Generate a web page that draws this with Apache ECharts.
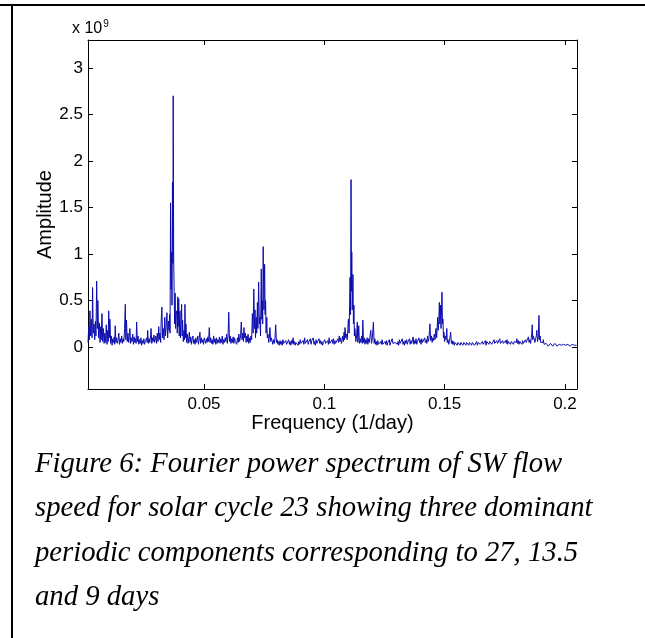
<!DOCTYPE html>
<html><head><meta charset="utf-8">
<script src="https://cdn.jsdelivr.net/npm/echarts@6/dist/echarts.min.js"></script>
<style>html,body{margin:0;padding:0;background:#fff}#c{width:645px;height:638px}</style>
</head><body><div id="c"></div>
<script>
// Amplitude values in units of 1e9, frequency in 1/day
const specLow = [[0.0018,0.05],[0.0021,0.22],[0.0024,0.08],[0.0026,0.39],[0.0029,0.12],[0.0032,0.30],[0.0035,0.10],[0.0037,0.64],[0.0040,0.15],[0.0043,0.25],[0.0046,0.08],[0.0049,0.28],[0.0051,0.12],[0.0054,0.71],[0.0057,0.20],[0.0059,0.50],[0.0062,0.10],[0.0065,0.26],[0.0068,0.05],[0.0071,0.22],[0.0073,0.08],[0.0076,0.36],[0.0079,0.06],[0.0082,0.20],[0.0085,0.04],[0.0088,0.15],[0.0091,0.05],[0.0094,0.24],[0.0097,0.03],[0.0100,0.18],[0.0102,0.06],[0.0104,0.39],[0.0107,0.10],[0.0109,0.30],[0.0112,0.04],[0.0115,0.12],[0.0118,0.02],[0.0121,0.09],[0.0124,0.05],[0.0127,0.11],[0.0129,0.03],[0.0131,0.23],[0.0134,0.05],[0.0137,0.10],[0.0140,0.04],[0.0143,0.08],[0.0146,0.15],[0.0149,0.03],[0.0152,0.09],[0.0155,0.05],[0.0158,0.12],[0.0161,0.04],[0.0164,0.09],[0.0167,0.06],[0.0170,0.20],[0.0173,0.46],[0.0175,0.08],[0.0178,0.29],[0.0181,0.06],[0.0184,0.15],[0.0187,0.05],[0.0190,0.12],[0.0192,0.20],[0.0195,0.04],[0.0198,0.10],[0.0201,0.06],[0.0204,0.14],[0.0207,0.03],[0.0210,0.11],[0.0213,0.05],[0.0216,0.09],[0.0218,0.04],[0.0220,0.27],[0.0223,0.06],[0.0226,0.12],[0.0229,0.03],[0.0232,0.08],[0.0235,0.04],[0.0238,0.10],[0.0241,0.02],[0.0244,0.07],[0.0247,0.04],[0.0250,0.09],[0.0253,0.03],[0.0256,0.06],[0.0259,0.04],[0.0262,0.10],[0.0264,0.05],[0.0266,0.18],[0.0269,0.04],[0.0272,0.09],[0.0275,0.05],[0.0278,0.12],[0.0280,0.20],[0.0283,0.04],[0.0286,0.10],[0.0289,0.06],[0.0292,0.13],[0.0295,0.05],[0.0298,0.09],[0.0300,0.12],[0.0303,0.04],[0.0306,0.15],[0.0309,0.06],[0.0312,0.22],[0.0314,0.08],[0.0317,0.15],[0.0320,0.05],[0.0322,0.28],[0.0325,0.43],[0.0328,0.10],[0.0331,0.20],[0.0334,0.08],[0.0337,0.32],[0.0340,0.12],[0.0343,0.22],[0.0346,0.37],[0.0349,0.10],[0.0352,0.28],[0.0355,0.18],[0.0357,0.35]];
const spec27 = [[0.0359,0.15],[0.0361,1.55],[0.0363,0.62],[0.0365,1.02],[0.0367,0.45],[0.0369,1.77],[0.0371,0.90],[0.0372,2.70],[0.0374,0.95],[0.0376,0.60],[0.0378,0.25],[0.0380,0.58],[0.0382,0.20],[0.0384,0.35],[0.0387,0.39],[0.0389,0.15],[0.0391,0.54],[0.0393,0.22],[0.0395,0.52],[0.0397,0.12],[0.0400,0.39],[0.0402,0.10],[0.0404,0.25],[0.0407,0.46],[0.0409,0.12],[0.0411,0.29],[0.0414,0.06],[0.0417,0.18],[0.0419,0.08],[0.0421,0.46],[0.0423,0.10],[0.0425,0.25],[0.0428,0.05],[0.0431,0.14],[0.0434,0.04],[0.0437,0.10],[0.0439,0.16],[0.0442,0.05],[0.0445,0.11],[0.0448,0.03],[0.0451,0.09],[0.0454,0.12],[0.0457,0.04],[0.0460,0.08],[0.0463,0.03],[0.0466,0.10],[0.0469,0.05],[0.0472,0.08],[0.0474,0.12],[0.0477,0.03],[0.0480,0.09],[0.0483,0.16],[0.0486,0.04],[0.0489,0.10],[0.0492,0.05],[0.0495,0.08],[0.0498,0.03],[0.0501,0.10],[0.0504,0.12],[0.0507,0.04],[0.0510,0.09],[0.0513,0.05],[0.0516,0.11],[0.0519,0.06],[0.0522,0.21],[0.0525,0.05],[0.0528,0.10],[0.0531,0.04],[0.0534,0.08],[0.0537,0.03],[0.0540,0.12],[0.0543,0.05],[0.0546,0.09],[0.0549,0.03]];
const spec13 = [[0.0552,0.10],[0.0555,0.04],[0.0558,0.08],[0.0561,0.05],[0.0564,0.11],[0.0567,0.04],[0.0570,0.09],[0.0573,0.05],[0.0576,0.12],[0.0579,0.03],[0.0582,0.08],[0.0585,0.05],[0.0588,0.10],[0.0591,0.06],[0.0594,0.14],[0.0597,0.04],[0.0600,0.12],[0.0603,0.375],[0.0606,0.06],[0.0609,0.12],[0.0612,0.04],[0.0615,0.09],[0.0618,0.05],[0.0621,0.11],[0.0624,0.04],[0.0627,0.10],[0.0630,0.06],[0.0633,0.08],[0.0636,0.03],[0.0639,0.10],[0.0642,0.05],[0.0645,0.14],[0.0648,0.06],[0.0652,0.12],[0.0655,0.27],[0.0658,0.08],[0.0661,0.15],[0.0664,0.06],[0.0666,0.21],[0.0669,0.10],[0.0672,0.15],[0.0675,0.05],[0.0678,0.12],[0.0681,0.06],[0.0683,0.14],[0.0686,0.04],[0.0689,0.10],[0.0692,0.05],[0.0695,0.12],[0.0698,0.08],[0.0701,0.36],[0.0704,0.15],[0.0707,0.625],[0.0710,0.20],[0.0712,0.40],[0.0714,0.10],[0.0717,0.32],[0.0719,0.15],[0.0722,0.48],[0.0724,0.20],[0.0727,0.70],[0.0730,0.25],[0.0732,0.32],[0.0735,0.12],[0.0738,0.84],[0.0740,0.30],[0.0742,0.50],[0.0744,0.25],[0.0746,1.08],[0.0749,0.40],[0.0752,0.89],[0.0754,0.35],[0.0756,0.50],[0.0758,0.15],[0.0761,0.32],[0.0763,0.10],[0.0766,0.14],[0.0769,0.05],[0.0772,0.12],[0.0774,0.21],[0.0777,0.06],[0.0780,0.10],[0.0783,0.09],[0.0786,0.03],[0.0789,0.08],[0.0792,0.04],[0.0795,0.10],[0.0798,0.24],[0.0801,0.05],[0.0804,0.08],[0.0807,0.03],[0.0810,0.06],[0.0813,0.02],[0.0816,0.07],[0.0819,0.03],[0.0822,0.06],[0.0825,0.02],[0.0828,0.08],[0.0831,0.04],[0.0834,0.06],[0.0837,0.02],[0.0840,0.07],[0.0843,0.03],[0.0846,0.05],[0.0849,0.02]];
const spec9 = [[0.0852,0.08],[0.0855,0.03],[0.0858,0.06],[0.0861,0.02],[0.0864,0.07],[0.0867,0.04],[0.0870,0.10],[0.0873,0.03],[0.0876,0.06],[0.0879,0.02],[0.0882,0.05],[0.0885,0.03],[0.0888,0.07],[0.0891,0.02],[0.0894,0.06],[0.0897,0.03],[0.0900,0.08],[0.0903,0.04],[0.0906,0.06],[0.0909,0.02],[0.0912,0.07],[0.0915,0.03],[0.0918,0.10],[0.0921,0.04],[0.0924,0.06],[0.0927,0.02],[0.0930,0.08],[0.0933,0.03],[0.0936,0.06],[0.0939,0.04],[0.0942,0.09],[0.0945,0.03],[0.0948,0.07],[0.0951,0.05],[0.0954,0.10],[0.0957,0.03],[0.0960,0.06],[0.0963,0.02],[0.0966,0.08],[0.0969,0.04],[0.0972,0.06],[0.0975,0.02],[0.0978,0.09],[0.0981,0.04],[0.0984,0.07],[0.0987,0.03],[0.0990,0.06],[0.0993,0.02],[0.0996,0.05],[0.0999,0.03],[0.1002,0.08],[0.1005,0.04],[0.1008,0.06],[0.1011,0.02],[0.1014,0.07],[0.1017,0.03],[0.1020,0.10],[0.1023,0.04],[0.1026,0.06],[0.1029,0.02],[0.1032,0.08],[0.1035,0.04],[0.1038,0.09],[0.1041,0.03],[0.1044,0.07],[0.1047,0.04],[0.1050,0.06],[0.1053,0.03],[0.1056,0.09],[0.1059,0.05],[0.1062,0.12],[0.1065,0.06],[0.1068,0.10],[0.1071,0.04],[0.1074,0.08],[0.1076,0.12],[0.1079,0.06],[0.1082,0.16],[0.1084,0.08],[0.1086,0.21],[0.1089,0.10],[0.1092,0.14],[0.1095,0.08],[0.1098,0.20],[0.1100,0.30],[0.1103,0.15],[0.1105,0.45],[0.1107,0.75],[0.1109,0.35],[0.1111,1.80],[0.1113,0.60],[0.1114,1.02],[0.1116,0.40],[0.1119,0.78],[0.1121,0.25],[0.1123,0.45],[0.1125,0.12],[0.1127,0.20],[0.1129,0.21],[0.1131,0.06],[0.1134,0.12],[0.1137,0.27],[0.1139,0.05],[0.1141,0.10],[0.1143,0.23],[0.1146,0.04],[0.1149,0.09],[0.1152,0.05],[0.1155,0.12],[0.1158,0.04],[0.1160,0.29],[0.1163,0.05],[0.1166,0.10],[0.1169,0.03],[0.1172,0.08],[0.1175,0.04],[0.1178,0.10],[0.1181,0.03],[0.1184,0.09],[0.1187,0.05],[0.1190,0.12],[0.1193,0.18],[0.1196,0.04],[0.1199,0.08],[0.1201,0.10],[0.1204,0.27],[0.1207,0.04],[0.1210,0.09],[0.1213,0.03],[0.1216,0.06],[0.1219,0.02],[0.1222,0.07],[0.1225,0.03],[0.1228,0.05],[0.1231,0.02],[0.1234,0.06],[0.1237,0.03],[0.1240,0.08],[0.1243,0.03],[0.1246,0.05],[0.1249,0.02]];
const specMid = [[0.1252,0.06],[0.1255,0.03],[0.1258,0.07],[0.1261,0.02],[0.1264,0.05],[0.1267,0.03],[0.1270,0.08],[0.1273,0.02],[0.1276,0.05],[0.1279,0.03],[0.1282,0.09],[0.1285,0.04],[0.1288,0.06],[0.1291,0.02],[0.1294,0.05],[0.1297,0.03],[0.1300,0.07],[0.1303,0.03],[0.1306,0.06],[0.1309,0.02],[0.1312,0.08],[0.1315,0.04],[0.1318,0.06],[0.1321,0.03],[0.1324,0.09],[0.1327,0.03],[0.1330,0.06],[0.1333,0.02],[0.1336,0.07],[0.1339,0.04],[0.1342,0.08],[0.1345,0.03],[0.1348,0.06],[0.1351,0.04],[0.1354,0.09],[0.1357,0.03],[0.1360,0.07],[0.1363,0.04],[0.1366,0.06],[0.1369,0.11],[0.1372,0.03],[0.1375,0.07],[0.1378,0.04],[0.1381,0.09],[0.1384,0.03],[0.1387,0.06],[0.1390,0.04],[0.1393,0.10],[0.1396,0.05],[0.1399,0.08],[0.1402,0.03],[0.1405,0.09],[0.1408,0.05],[0.1411,0.07],[0.1414,0.03],[0.1417,0.10],[0.1420,0.05],[0.1423,0.08],[0.1426,0.04],[0.1429,0.12],[0.1432,0.06],[0.1435,0.10],[0.1437,0.18],[0.1439,0.25],[0.1442,0.07],[0.1445,0.12],[0.1448,0.05],[0.1451,0.10],[0.1454,0.07],[0.1457,0.14],[0.1460,0.08],[0.1462,0.15],[0.1464,0.20],[0.1467,0.10],[0.1469,0.22],[0.1471,0.32],[0.1473,0.18],[0.1476,0.30],[0.1478,0.48],[0.1480,0.25],[0.1483,0.45],[0.1485,0.20],[0.1487,0.40],[0.1489,0.59],[0.1491,0.25],[0.1493,0.30],[0.1495,0.10],[0.1497,0.16],[0.1500,0.06],[0.1503,0.12],[0.1506,0.08],[0.1509,0.20],[0.1511,0.05],[0.1514,0.08],[0.1517,0.03],[0.1520,0.07],[0.1522,0.10],[0.1525,0.16],[0.1528,0.04],[0.1531,0.07],[0.1534,0.03],[0.1537,0.06],[0.1540,0.02],[0.1543,0.05],[0.1546,0.03],[0.1549,0.06],[0.1552,0.02],[0.1555,0.05],[0.1558,0.03],[0.1561,0.04],[0.1564,0.02],[0.1567,0.05],[0.1570,0.03],[0.1573,0.04],[0.1576,0.02],[0.1579,0.05],[0.1582,0.03],[0.1585,0.04],[0.1588,0.02],[0.1591,0.05],[0.1594,0.03],[0.1597,0.04]];
const specHigh = [[0.1600,0.02],[0.1603,0.05],[0.1606,0.03],[0.1609,0.04],[0.1612,0.02],[0.1615,0.05],[0.1618,0.03],[0.1621,0.06],[0.1624,0.02],[0.1627,0.04],[0.1630,0.03],[0.1633,0.06],[0.1636,0.02],[0.1639,0.05],[0.1642,0.03],[0.1645,0.07],[0.1648,0.03],[0.1651,0.05],[0.1654,0.02],[0.1657,0.06],[0.1660,0.03],[0.1663,0.05],[0.1666,0.03],[0.1669,0.07],[0.1672,0.02],[0.1675,0.06],[0.1678,0.04],[0.1681,0.08],[0.1684,0.03],[0.1687,0.06],[0.1690,0.04],[0.1693,0.07],[0.1696,0.03],[0.1699,0.05],[0.1702,0.03],[0.1705,0.08],[0.1708,0.04],[0.1711,0.06],[0.1714,0.02],[0.1717,0.07],[0.1720,0.04],[0.1723,0.06],[0.1726,0.03],[0.1729,0.09],[0.1732,0.04],[0.1735,0.06],[0.1738,0.03],[0.1741,0.07],[0.1744,0.04],[0.1747,0.06],[0.1750,0.02],[0.1753,0.07],[0.1756,0.04],[0.1759,0.08],[0.1762,0.03],[0.1765,0.06],[0.1768,0.04],[0.1771,0.08],[0.1774,0.03],[0.1777,0.06],[0.1780,0.04],[0.1783,0.07],[0.1786,0.03],[0.1789,0.06],[0.1792,0.04],[0.1795,0.08],[0.1798,0.05],[0.1800,0.09],[0.1803,0.04],[0.1806,0.07],[0.1809,0.03],[0.1812,0.06],[0.1815,0.04],[0.1818,0.08],[0.1821,0.03],[0.1824,0.07],[0.1827,0.04],[0.1830,0.06],[0.1833,0.03],[0.1836,0.08],[0.1839,0.05],[0.1842,0.07],[0.1845,0.04],[0.1848,0.11],[0.1851,0.05],[0.1854,0.08],[0.1857,0.04],[0.1860,0.10],[0.1862,0.15],[0.1864,0.24],[0.1866,0.08],[0.1869,0.12],[0.1872,0.10],[0.1875,0.05],[0.1878,0.09],[0.1881,0.12],[0.1883,0.18],[0.1886,0.06],[0.1889,0.10],[0.1892,0.34],[0.1894,0.08],[0.1897,0.12],[0.1899,0.05],[0.1902,0.06],[0.1905,0.03],[0.1908,0.05],[0.1910,0.08],[0.1913,0.03],[0.1916,0.04],[0.1919,0.02],[0.1922,0.04],[0.1925,0.02],[0.1928,0.03],[0.1931,0.01],[0.1934,0.03],[0.1937,0.02],[0.1940,0.04],[0.1943,0.02],[0.1946,0.03],[0.1949,0.01],[0.1952,0.03],[0.1955,0.02],[0.1958,0.04],[0.1961,0.02],[0.1964,0.03],[0.1967,0.01],[0.1970,0.03],[0.1973,0.02],[0.1976,0.03],[0.1979,0.01],[0.1982,0.03],[0.1985,0.02],[0.1988,0.04],[0.1991,0.02],[0.1994,0.03],[0.1997,0.01],[0.2000,0.03],[0.2003,0.02],[0.2006,0.04],[0.2009,0.02],[0.2012,0.03],[0.2015,0.02],[0.2018,0.04],[0.2021,0.01],[0.2024,0.03],[0.2027,0.02],[0.2030,0.03],[0.2033,0.01],[0.2036,0.03],[0.2039,0.02],[0.2042,0.03],[0.2045,0.02],[0.2048,0.02]];
const xTicks = [0.05, 0.1, 0.15, 0.2];
const yTicks = [0, 0.5, 1, 1.5, 2, 2.5, 3];
const xRange = [0.0018, 0.2050];
const yRange = [-0.45, 3.3];
const captionLines = [
  'Figure 6: Fourier power spectrum of SW flow',
  'speed for solar cycle 23 showing three dominant',
  'periodic components corresponding to 27, 13.5',
  'and 9 days'
];

const spectrum = specLow.concat(spec27, spec13, spec9, specMid, specHigh);
const chart = echarts.init(document.getElementById('c'), null, {renderer: 'canvas'});
const font = 'Liberation Sans, Arial, sans-serif';
const lab = {color: '#000', fontFamily: font, fontSize: 17};
const fmt = v => String(v);
function xAx(pos, show) {
  return {type: 'value', position: pos, min: xRange[0], max: xRange[1],
    axisLine: {show: true, onZero: false, lineStyle: {color: '#000', width: 1}},
    axisTick: {show: true, inside: true, length: 5, customValues: xTicks, lineStyle: {color: '#000'}},
    axisLabel: show ? Object.assign({show: true, customValues: xTicks, margin: 7, formatter: fmt}, lab) : {show: false},
    splitLine: {show: false}};
}
function yAx(pos, show) {
  return {type: 'value', position: pos, min: yRange[0], max: yRange[1],
    axisLine: {show: true, onZero: false, lineStyle: {color: '#000', width: 1}},
    axisTick: {show: true, inside: true, length: 5, customValues: yTicks, lineStyle: {color: '#000'}},
    axisLabel: show ? Object.assign({show: true, customValues: yTicks, margin: 5, formatter: fmt}, lab) : {show: false},
    splitLine: {show: false}};
}
const xa = [xAx('bottom', true), xAx('top', false)];
xa[0].name = 'Frequency (1/day)';
xa[0].nameLocation = 'middle';
xa[0].nameGap = 24;
xa[0].nameMoveOverlap = false;
xa[0].nameTextStyle = {color: '#000', fontFamily: font, fontSize: 20};
const ya = [yAx('left', true), yAx('right', false)];
ya[0].name = 'Amplitude';
ya[0].nameLocation = 'middle';
ya[0].nameGap = 33;
ya[0].nameMoveOverlap = false;
ya[0].nameTextStyle = {color: '#000', fontFamily: font, fontSize: 20};

const capEls = captionLines.map((t, i) => ({
  type: 'text', left: 35, top: 450 + i * 44.3,
  style: {text: t, fill: '#000', font: 'italic 28.7px "Liberation Serif", "Times New Roman", serif'}
}));

chart.setOption({
  backgroundColor: '#fff',
  animation: false,
  grid: {left: 88, right: 68, top: 40, bottom: 249, containLabel: false},
  xAxis: xa,
  yAxis: ya,
  series: [{
    type: 'line', data: spectrum, xAxisIndex: 0, yAxisIndex: 0,
    showSymbol: false, symbol: 'none', smooth: false,
    lineStyle: {color: '#0c0cae', width: 1}, clip: true
  }],
  graphic: [
    {type: 'line', shape: {x1: 0, y1: 5, x2: 645, y2: 5}, style: {stroke: '#000', lineWidth: 2}},
    {type: 'line', shape: {x1: 12, y1: 4, x2: 12, y2: 638}, style: {stroke: '#000', lineWidth: 2}},
    {type: 'text', left: 72, top: 19, style: {
      text: 'x 10{s|9}', fill: '#000', font: '16px "Liberation Sans", Arial, sans-serif',
      rich: {s: {fontSize: 10, fontFamily: font, verticalAlign: 'top', padding: [0,0,10,1]}}
    }}
  ].concat(capEls)
});
</script>
</body></html>
